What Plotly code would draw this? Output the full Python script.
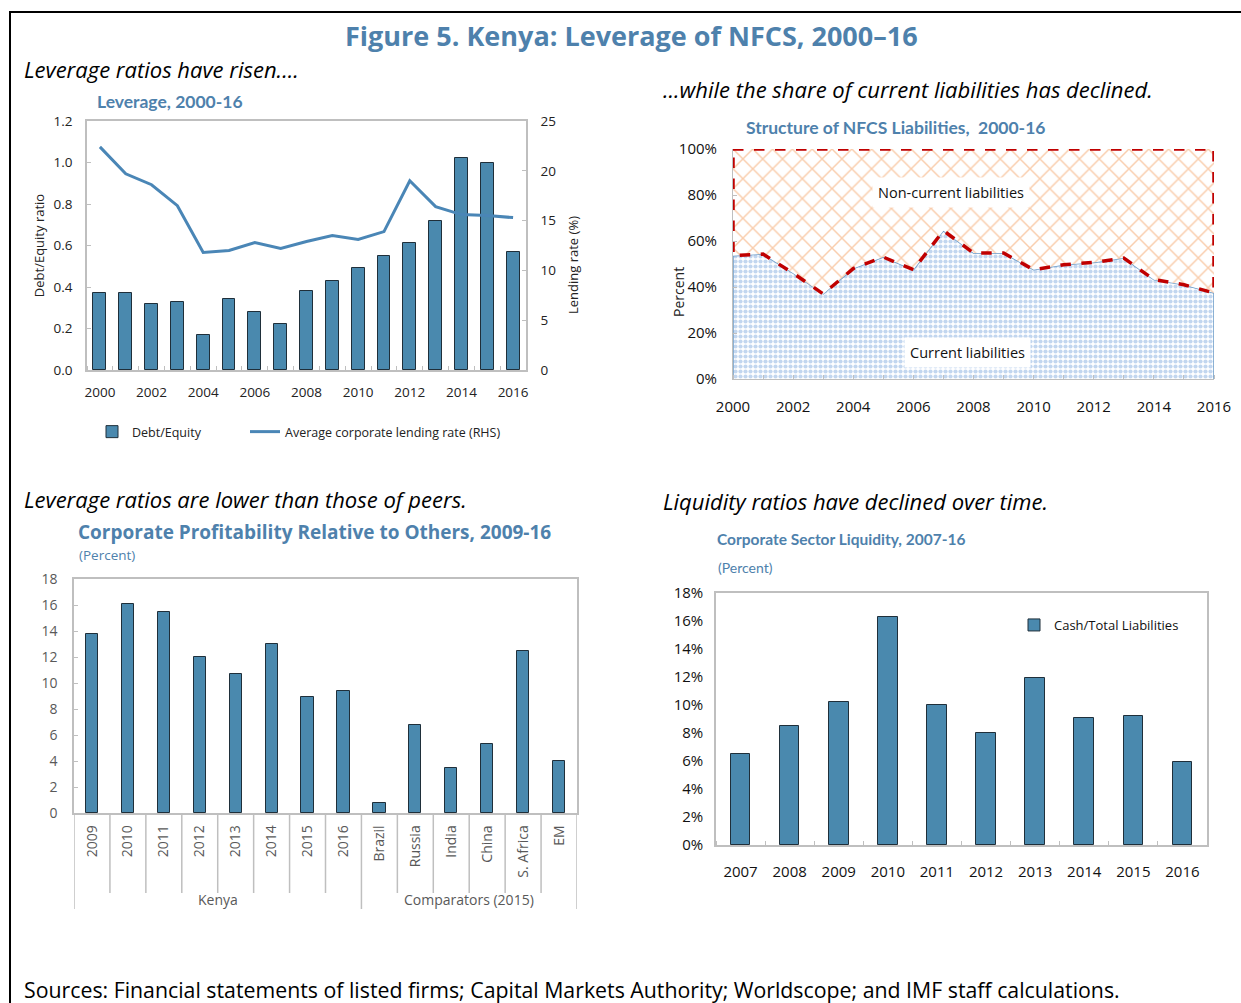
import plotly.graph_objects as go

# ---------------- data ----------------
lev_years = list(range(2000, 2017))
debt_equity = [0.37, 0.37, 0.32, 0.33, 0.17, 0.34, 0.28, 0.22, 0.38, 0.43,
               0.49, 0.55, 0.61, 0.72, 1.02, 1.00, 0.57]
lending_rate = [22.4, 19.7, 18.6, 16.5, 11.8, 12.0, 12.8, 12.2, 12.9, 13.5,
                13.1, 13.9, 19.0, 16.4, 15.6, 15.5, 15.3]

struct_years = list(range(2000, 2017))
current_liab = [0.536, 0.543, 0.46, 0.37, 0.48, 0.53, 0.475, 0.645, 0.548, 0.548,
                0.475, 0.497, 0.507, 0.526, 0.432, 0.41, 0.374]

profit_labels = ["2009", "2010", "2011", "2012", "2013", "2014", "2015", "2016",
                 "Brazil", "Russia", "India", "China", "S. Africa", "EM"]
profit_values = [13.8, 16.1, 15.5, 12.0, 10.7, 13.0, 8.9, 9.4,
                 0.8, 6.8, 3.5, 5.3, 12.5, 4.0]
profit_groups = ["Kenya", "Comparators (2015)"]

liq_years = list(range(2007, 2017))
cash_liab = [6.5, 8.5, 10.2, 16.3, 10.0, 8.0, 11.9, 9.1, 9.2, 5.9]

# ---------------- styling ----------------
W, H = 1241, 1003
BAR = "#4A89AE"
LINE = "#4A86B6"
TITLE_BLUE = "#4E81AC"
FRAME = "#BFBFBF"
MAIN_FONT = "Open Sans"
NARROW = "Lato"


def px(x):
    return x / W


def py(y):
    return 1 - y / H


fig = go.Figure()

# ---- panel 1: leverage ----
fig.add_trace(go.Bar(x=lev_years, y=debt_equity, name="Debt/Equity",
                     marker=dict(color=BAR, line=dict(color="#1F2F3A", width=1)),
                     width=0.5, xaxis="x", yaxis="y", legend="legend"))
fig.add_trace(go.Scatter(x=lev_years, y=lending_rate, mode="lines",
                         name="Average corporate lending rate (RHS)",
                         line=dict(color=LINE, width=3), xaxis="x", yaxis="y2",
                         legend="legend3"))

# ---- panel 2: liability structure ----
fig.add_trace(go.Scatter(
    x=[struct_years[0]] + struct_years + [struct_years[-1]],
    y=[0] + current_liab + [0],
    mode="lines", fill="toself", fillcolor="white",
    fillpattern=dict(shape=".", fgcolor="#85AEE0", bgcolor="white", size=5, solidity=0.55),
    line=dict(color="#6A9BC8", width=1.5), showlegend=False,
    xaxis="x3", yaxis="y3", hoverinfo="skip"))
fig.add_trace(go.Scatter(
    x=struct_years + struct_years[::-1] + [struct_years[0]],
    y=[1.0] * len(struct_years) + current_liab[::-1] + [1.0],
    mode="lines", fill="toself", fillcolor="white",
    fillpattern=dict(shape="x", fgcolor="#F39C5B", bgcolor="white", size=14, solidity=0.2),
    line=dict(color="#C00000", width=3.5, dash="dash"), showlegend=False,
    xaxis="x3", yaxis="y3", hoverinfo="skip"))

# ---- panel 3: profitability ----
profit_pos = list(range(len(profit_labels)))
fig.add_trace(go.Bar(x=profit_pos, y=profit_values, width=0.34,
                     marker=dict(color=BAR, line=dict(color="#1F2F3A", width=1)),
                     showlegend=False, xaxis="x4", yaxis="y4"))

# ---- panel 4: liquidity ----
fig.add_trace(go.Bar(x=liq_years, y=cash_liab, name="Cash/Total Liabilities", width=0.4,
                     marker=dict(color=BAR, line=dict(color="#1F2F3A", width=1)),
                     xaxis="x5", yaxis="y5", legend="legend2"))

tick_font = dict(family=MAIN_FONT, size=13.5, color="#222222")
narrow_tick = dict(family=MAIN_FONT, size=15, color="#111111")

fig.update_layout(
    width=W, height=H, margin=dict(l=0, r=0, t=0, b=0, autoexpand=False),
    paper_bgcolor="white", plot_bgcolor="white",
    font=dict(family=MAIN_FONT, color="#222222"),
    bargap=0,
    # panel 1 axes
    xaxis=dict(domain=[px(87), px(526)], anchor="y", range=[1999.5, 2016.5],
               tickvals=list(range(2000, 2017, 2)), ticks="", tickfont=tick_font,
               showline=True, linecolor=FRAME, linewidth=1.5, mirror=True,
               showgrid=False, zeroline=False, ticklabelstandoff=9,
               minor=dict(ticks="inside", tickvals=[y + 0.5 for y in range(1999, 2017)],
                          ticklen=4, tickcolor=FRAME)),
    yaxis=dict(domain=[py(370), py(121)], anchor="x", range=[0, 1.2], dtick=0.2,
               tickformat=".1f", tickfont=tick_font, showgrid=False, zeroline=False,
               showline=True, linecolor=FRAME, linewidth=1.5,
               ticks="inside", ticklen=4, tickcolor=FRAME, ticklabelstandoff=10,
               title=dict(text="Debt/Equity ratio", font=dict(size=13, color="#222222"),
                          standoff=6)),
    yaxis2=dict(overlaying="y", side="right", anchor="x", range=[0, 25], dtick=5,
                tickfont=tick_font, showgrid=False, zeroline=False,
                showline=True, linecolor=FRAME, linewidth=1.5,
                ticks="inside", ticklen=4, tickcolor=FRAME, ticklabelstandoff=10),
    # panel 2 axes
    xaxis3=dict(domain=[px(733), px(1214)], anchor="y3", range=[2000, 2016],
                tickvals=list(range(2000, 2017, 2)), ticks="", tickfont=narrow_tick,
                showline=True, linecolor=FRAME, showgrid=False, zeroline=False,
                ticklabelstandoff=14,
                minor=dict(ticks="inside", dtick=1, tick0=2000, ticklen=4, tickcolor=FRAME)),
    yaxis3=dict(domain=[py(379), py(149)], anchor="x3", range=[0, 1.0], dtick=0.2,
                tickformat=".0%", tickfont=narrow_tick, showline=True, linecolor=FRAME,
                showgrid=False, zeroline=False, ticks="inside", ticklen=4,
                tickcolor=FRAME, ticklabelstandoff=12),
    # panel 3 axes
    xaxis4=dict(domain=[px(74), px(577)], anchor="y4", range=[-0.5, 13.5],
                tickvals=profit_pos, ticktext=profit_labels, tickangle=-90,
                ticks="", tickfont=dict(family=MAIN_FONT, size=14, color="#595959"),
                showline=True, linecolor=FRAME, linewidth=1.5, mirror=True,
                showgrid=False, zeroline=False, ticklabelstandoff=5),
    yaxis4=dict(domain=[py(813), py(579)], anchor="x4", range=[0, 18], dtick=2,
                tickfont=dict(family=MAIN_FONT, size=14, color="#595959"),
                showline=True, linecolor=FRAME, linewidth=1.5, mirror=True,
                showgrid=False, zeroline=False, ticks="inside", ticklen=4,
                tickcolor=FRAME, ticklabelstandoff=12),
    # panel 4 axes
    xaxis5=dict(domain=[px(716), px(1207)], anchor="y5", range=[2006.5, 2016.5],
                tickvals=liq_years, ticks="", tickfont=narrow_tick,
                showline=True, linecolor=FRAME, linewidth=1.5, mirror=True,
                showgrid=False, zeroline=False, ticklabelstandoff=12,
                minor=dict(ticks="inside", tickvals=[y + 0.5 for y in range(2006, 2017)],
                           ticklen=4, tickcolor=FRAME)),
    yaxis5=dict(domain=[py(845), py(593)], anchor="x5", range=[0, 18], dtick=2,
                ticksuffix="%", tickfont=narrow_tick, showline=True, linecolor=FRAME,
                linewidth=1.5, mirror=True, showgrid=False, zeroline=False,
                ticks="", ticklabelstandoff=8),
    legend=dict(x=px(92), y=py(432), xanchor="left", yanchor="middle",
                font=dict(family=MAIN_FONT, size=12.5, color="#222222"),
                bgcolor="rgba(0,0,0,0)", itemwidth=30),
    legend3=dict(x=px(245), y=py(432), xanchor="left", yanchor="middle",
                 font=dict(family=MAIN_FONT, size=12.5, color="#222222"),
                 bgcolor="rgba(0,0,0,0)", itemwidth=30),
    legend2=dict(x=px(1014), y=py(625), xanchor="left", yanchor="middle",
                 font=dict(family=MAIN_FONT, size=13, color="#111111"),
                 bgcolor="rgba(0,0,0,0)", itemwidth=30),
)

# ---- text: titles, subtitles, labels ----
ann = []


def text(x, y, s, size, color="#000000", family=MAIN_FONT, xanchor="left",
         bold=False, italic=False, **kw):
    if bold:
        s = "<b>" + s + "</b>"
    if italic:
        s = "<i>" + s + "</i>"
    ann.append(dict(x=px(x), y=py(y), xref="paper", yref="paper", text=s,
                    showarrow=False, xanchor=xanchor, yanchor="middle",
                    font=dict(size=size, color=color, family=family), **kw))


text(631, 35, "Figure 5. Kenya: Leverage of NFCS, 2000–16", 27, TITLE_BLUE,
     xanchor="center", bold=True)
text(22, 69, "Leverage ratios have risen....", 22, italic=True)
text(95, 102, "Leverage, 2000-16", 17.5, TITLE_BLUE, family=NARROW, bold=True)
text(661, 89, "...while the share of current liabilities has declined.", 22, italic=True)
text(744, 127, "Structure of NFCS Liabilities,  2000-16", 17.5, TITLE_BLUE,
     family=NARROW, bold=True)
text(22, 499, "Leverage ratios are lower than those of peers.", 22, italic=True)
text(76, 532, "Corporate Profitability Relative to Others, 2009-16", 19, TITLE_BLUE, bold=True)
text(77, 555, "(Percent)", 13.5, TITLE_BLUE)
text(661, 501, "Liquidity ratios have declined over time.", 22, italic=True)
text(715, 539, "Corporate Sector Liquidity, 2007-16", 15.5, TITLE_BLUE, family=NARROW, bold=True)
text(716, 567, "(Percent)", 14, TITLE_BLUE, family=NARROW)
text(22, 989, "Sources: Financial statements of listed firms; Capital Markets Authority; "
     "Worldscope; and IMF staff calculations.", 21.3)

# rotated axis titles placed beside their tick labels
text(573, 265, "Lending rate (%)", 13, "#222222", xanchor="center", textangle=-90)
text(678, 292, "Percent", 14, "#222222", xanchor="center", textangle=-90)

# labels inside the structure chart
ann.append(dict(x=2007.25, y=0.81, xref="x3", yref="y3", text="Non-current liabilities",
                showarrow=False, bgcolor="white", borderpad=5,
                font=dict(family=MAIN_FONT, size=14.5, color="#111111")))
ann.append(dict(x=2007.8, y=0.115, xref="x3", yref="y3", text="Current liabilities",
                showarrow=False, bgcolor="white", borderpad=5,
                font=dict(family=MAIN_FONT, size=14.5, color="#111111")))

# group labels under the profitability chart
for gx, gname in zip([3.5, 10.5], profit_groups):
    ann.append(dict(x=gx, y=py(899), xref="x4", yref="paper", text=gname,
                    showarrow=False, yanchor="middle",
                    font=dict(family=MAIN_FONT, size=14, color="#595959")))
fig.update_layout(annotations=ann)

# ---- shapes: category dividers and outer frame ----
shapes = []
for k in range(len(profit_labels) + 1):
    xv = k - 0.5
    group_edge = xv in (-0.5, 7.5, 13.5)
    shapes.append(dict(type="line", xref="x4", yref="paper", x0=xv, x1=xv,
                       y0=py(813), y1=py(909 if group_edge else 893),
                       line=dict(color=FRAME, width=1.5)))
# outer figure frame (top and left rules)
shapes.append(dict(type="line", xref="paper", yref="paper", x0=px(9), x1=1,
                   y0=py(12), y1=py(12), line=dict(color="black", width=2)))
shapes.append(dict(type="line", xref="paper", yref="paper", x0=px(10), x1=px(10),
                   y0=py(12), y1=0, line=dict(color="black", width=2)))
fig.update_layout(shapes=shapes)

fig.write_html("out.html")
